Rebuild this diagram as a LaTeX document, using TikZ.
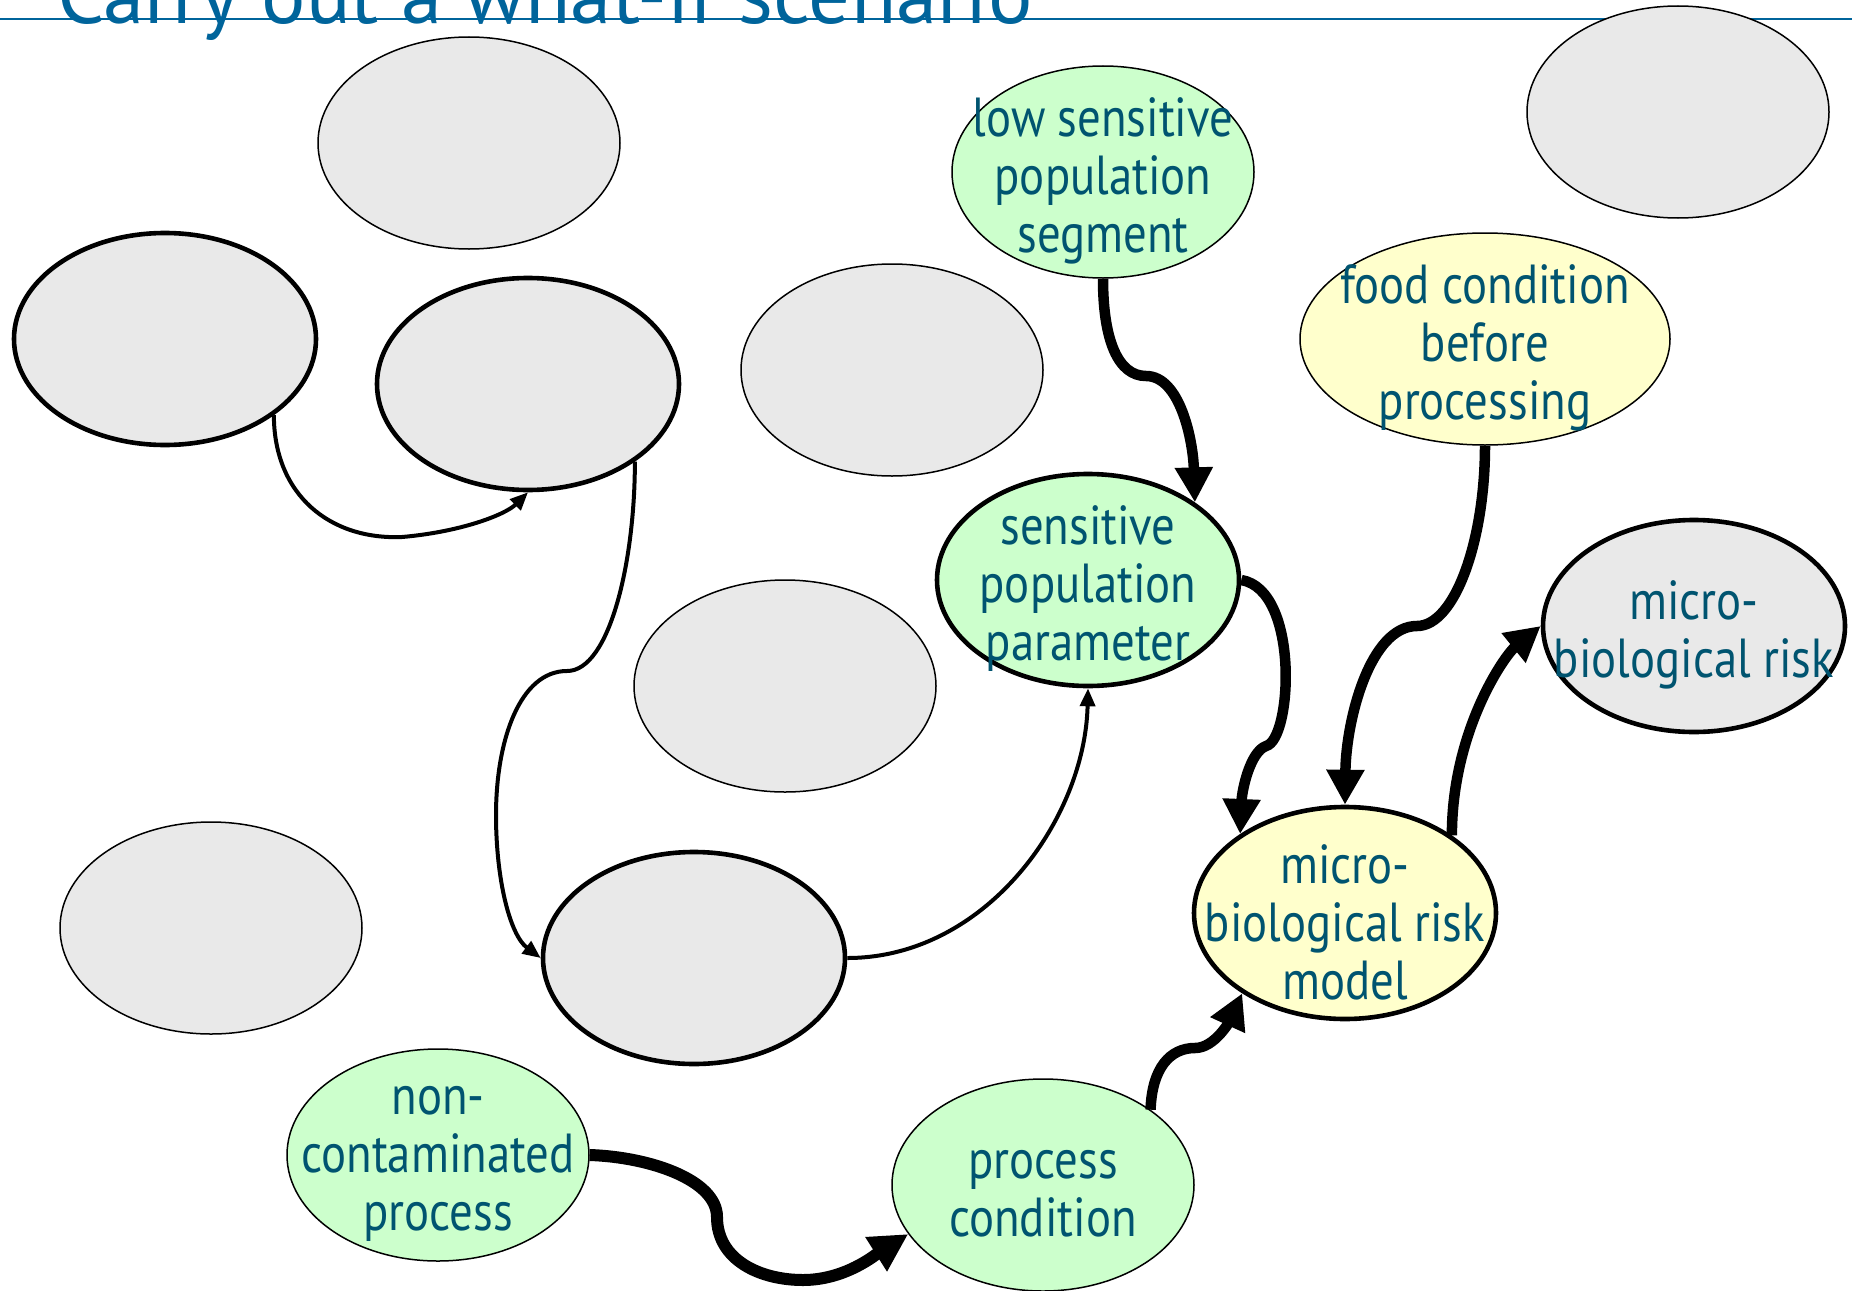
\documentclass[tikz,border=0pt]{standalone}
\usepackage{fontspec}
\setmainfont{PT Sans}[FakeStretch=0.85]
\newfontfamily\headfont{PT Sans}
\usetikzlibrary{shapes.geometric,arrows.meta}
\definecolor{nodetext}{RGB}{0,84,112}
\definecolor{titleblue}{RGB}{0,100,155}
\definecolor{grayfill}{RGB}{233,233,233}
\definecolor{greenfill}{RGB}{204,255,204}
\definecolor{yellowfill}{RGB}{255,255,204}
\begin{document}
\begin{tikzpicture}[x=1pt,y=-1pt,
  blob/.style={ellipse, minimum width=302pt, minimum height=212pt, inner sep=0pt, draw=black},
  thinrim/.style={line width=1.5pt},
  thickrim/.style={line width=4.6pt},
  grayblob/.style={blob, fill=grayfill},
  greenblob/.style={blob, fill=greenfill},
  yellowblob/.style={blob, fill=yellowfill},
  txt/.style={text=nodetext, font=\fontsize{55}{58}\selectfont, align=center, inner sep=0pt, yshift=-9pt},
  lightlink/.style={line width=4pt, -{Triangle[length=18pt,width=15pt]}},
  heavylink/.style={line width=10.5pt, -{Triangle[length=35pt,width=36pt]}},
  heaviestlink/.style={line width=12pt, -{Triangle[length=38pt,width=38pt]}},
]
\useasboundingbox (0,0) rectangle (1852,1290);
\clip (0,0) rectangle (1852,1290);

% heading and rule
\draw[titleblue, line width=2.4pt] (0,19) -- (1852,19);
\node[anchor=base west, text=titleblue, inner sep=0pt, font=\headfont\fontsize{83}{88}\selectfont] (title) at (57,24) {Carry out a what-if scenario};

% empty grey placeholders
\node[grayblob, thinrim] (g1) at (469,143) {};
\node[grayblob, thinrim] (g2) at (1678,112) {};
\node[grayblob, thickrim] (g3) at (165,339) {};
\node[grayblob, thickrim] (g4) at (528,384) {};
\node[grayblob, thinrim] (g5) at (892,370) {};
\node[grayblob, thinrim] (g6) at (785,686) {};
\node[grayblob, thinrim] (g7) at (211,928) {};
\node[grayblob, thickrim] (g8) at (694,958) {};

% labelled variables
\node[greenblob, thinrim, label={[txt]center:{low sensitive\\population\\segment}}] (lowseg) at (1103,172) {};
\node[yellowblob, thinrim, minimum width=370pt, label={[txt]center:{food condition\\before\\processing}}] (food) at (1485,339) {};
\node[greenblob, thickrim, label={[txt]center:{sensitive\\population\\parameter}}] (senspar) at (1088,580) {};
\node[grayblob, thickrim, label={[txt]center:{micro-\\biological risk}}] (risk) at (1694,626) {};
\node[yellowblob, thickrim, label={[txt]center:{micro-\\biological risk\\model}}] (model) at (1345,913) {};
\node[greenblob, thinrim, label={[txt]center:{non-\\contaminated\\process}}] (noncont) at (438,1155) {};
\node[greenblob, thinrim, label={[txt]center:{process\\condition}}] (proccond) at (1043,1185) {};

% light connectors
\draw[lightlink] (g3.-35) .. controls (274,495) and (330,540) .. (402,537)
  .. controls (460,532) and (505,515) .. (g4.-90);
\draw[lightlink] (g4.-36) .. controls (635,560) and (610,671) .. (567,671)
  .. controls (520,671) and (496,740) .. (496,815)
  .. controls (496,880) and (510,935) .. (g8.180);
\draw[lightlink] (g8.0) .. controls (985,958) and (1085,820) .. (senspar.-90);

% heavy connectors
\draw[heavylink] (lowseg.-90) .. controls (1103,340) and (1118,376) .. (1146,376)
  .. controls (1180,376) and (1193,440) .. (senspar.36);
\draw[heavylink] (senspar.0) .. controls (1300,590) and (1292,740) .. (1266,746)
  .. controls (1250,752) and (1242,790) .. (model.143);
\draw[heavylink] (food.-90) .. controls (1485,540) and (1455,626) .. (1417,626)
  .. controls (1370,626) and (1346,720) .. (model.90);
\draw[heavylink] (model.36) .. controls (1452,730) and (1505,655) .. (risk.180);
\draw[heavylink] (proccond.35) .. controls (1152,1068) and (1170,1048) .. (1195,1048)
  .. controls (1215,1048) and (1230,1020) .. (model.-142);
\draw[heaviestlink] (noncont.0) .. controls (650,1157) and (717,1180) .. (717,1217)
  .. controls (717,1260) and (760,1280) .. (803,1280)
  .. controls (845,1280) and (875,1255) .. (proccond.-160);
\end{tikzpicture}
\end{document}
